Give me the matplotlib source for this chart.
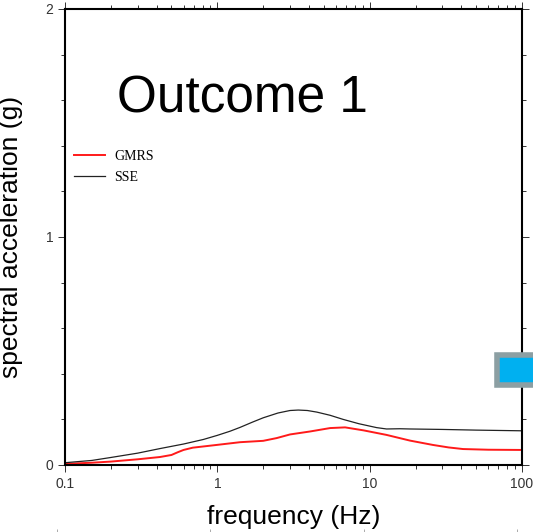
import matplotlib.pyplot as plt
from matplotlib.patches import Rectangle
from matplotlib.ticker import FixedLocator, NullFormatter

# Response spectra
sse_freq = [0.1, 0.15, 0.2, 0.3, 0.42, 0.6, 0.81, 1.0, 1.21, 1.41, 1.7, 2.0, 2.5, 3.0, 3.4, 3.9, 4.5, 5.5, 6.7,
            8.5, 11.1, 12.9, 15.8, 18.4, 30, 50, 100]
sse_acc = [0.01, 0.02, 0.033, 0.052, 0.072, 0.092, 0.112, 0.13, 0.148, 0.165, 0.188, 0.207, 0.228, 0.239, 0.241,
           0.239, 0.232, 0.218, 0.200, 0.181, 0.164, 0.158, 0.159, 0.158, 0.156, 0.153, 0.15]

gmrs_freq = [0.1, 0.15, 0.2, 0.3, 0.42, 0.5, 0.55, 0.6, 0.69, 0.99, 1.41, 2.0, 2.45, 3.0, 4.06, 5.5, 6.9,
             9.1, 12.9, 18.4, 26, 33, 41, 60, 100]
gmrs_acc = [0.005, 0.01, 0.015, 0.025, 0.035, 0.044, 0.056, 0.066, 0.076, 0.088, 0.10, 0.106, 0.118, 0.134,
            0.147, 0.162, 0.165, 0.152, 0.132, 0.107, 0.088, 0.077, 0.07, 0.067, 0.066]

x_ticks = [0.1, 1, 10, 100]
x_tick_labels = ['0.1', '1', '10', '100']
y_ticks = [0, 1, 2]

sans = ['Liberation Sans', 'DejaVu Sans']
serif = ['Liberation Serif', 'DejaVu Serif']

fig = plt.figure(figsize=(5.33, 5.32), dpi=100)
ax = fig.add_axes([65 / 533, 67 / 532, 457 / 533, 456 / 532])

ax.plot(gmrs_freq, gmrs_acc, color='#ff1a1a', linewidth=1.4, label='GMRS')
ax.plot(sse_freq, sse_acc, color='#222222', linewidth=0.9, label='SSE')

ax.set_xscale('log')
ax.set_xlim(0.1, 100)
ax.set_ylim(0, 2)
ax.set_xticks(x_ticks)
ax.set_xticklabels(x_tick_labels, family=sans, fontsize=10)
ax.set_yticks(y_ticks)
ax.set_yticklabels([str(v) for v in y_ticks], family=sans, fontsize=10)
ax.yaxis.set_minor_locator(FixedLocator([0.2, 0.4, 0.6, 0.8, 1.2, 1.4, 1.6, 1.8]))
ax.xaxis.set_minor_formatter(NullFormatter())
ax.tick_params(which='both', direction='out', top=True, right=True, width=0.7, colors='#333333')
ax.tick_params(which='major', length=5)
ax.tick_params(which='minor', length=3)
for sp in ax.spines.values():
    sp.set_linewidth(1.5)

ax.set_xlabel('frequency (Hz)', family=sans, fontsize=19, labelpad=10)
ax.set_ylabel('spectral acceleration (g)', family=sans, fontsize=19, labelpad=16)

ax.text(0.114, 0.774, 'Outcome 1', transform=ax.transAxes, family=sans, fontsize=37, va='baseline')

ax.legend(loc='upper left', bbox_to_anchor=(0.02, 0.69), frameon=False, borderaxespad=0, borderpad=0,
          prop={'family': serif, 'size': 10}, handlelength=2.2, handletextpad=0.7, labelspacing=0.55)

# blue box sticking out on the right
fig.patches.append(Rectangle((497 / 533, 147 / 532), 60 / 533, 30 / 532, transform=fig.transFigure,
                             facecolor='#00b0f0', edgecolor='#8c9fa3', linewidth=4, figure=fig))

# top edge of the next panel, cut off by the page
ax2 = fig.add_axes([57 / 533, -0.31, 460 / 533, 0.3])
ax2.set_xscale('log')
ax2.set_xlim(0.1, 100)
ax2.set_ylim(0, 2)
ax2.set_yticks([2])
ax2.set_yticklabels(['2'], family=sans, fontsize=10, color='#888888')
ax2.set_xticks(x_ticks)
ax2.set_xticklabels([])
ax2.xaxis.set_minor_formatter(NullFormatter())
ax2.tick_params(which='both', top=True, bottom=False, direction='out', colors='#aaaaaa', width=0.7)
ax2.tick_params(which='major', length=6)
ax2.tick_params(which='minor', length=3)
for sp in ax2.spines.values():
    sp.set_visible(False)

fig.savefig('out.png', dpi=100)
